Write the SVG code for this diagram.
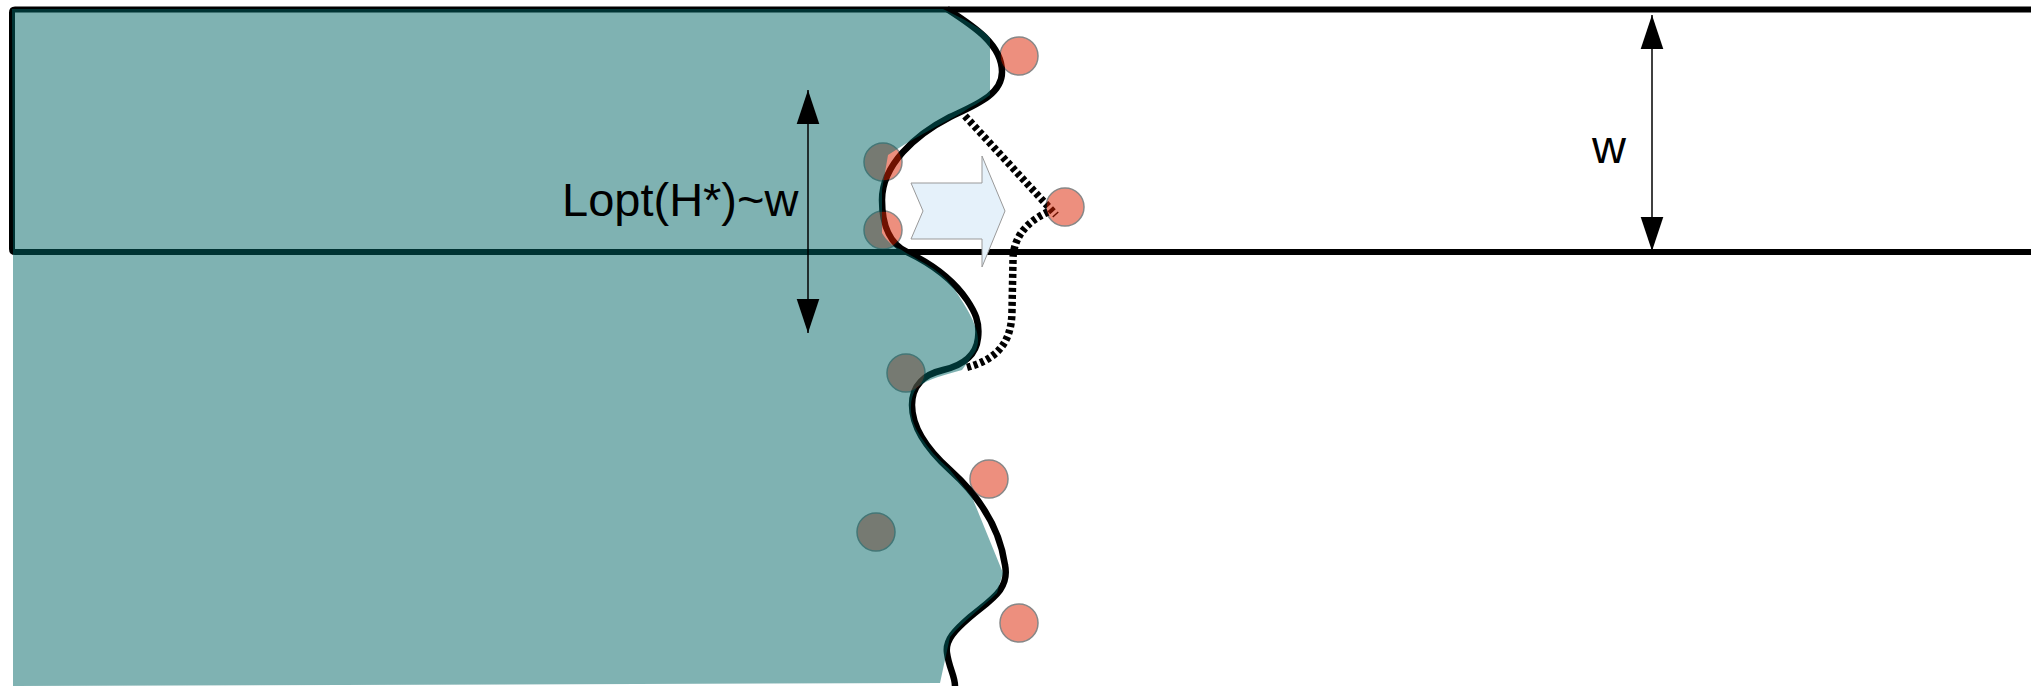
<svg xmlns="http://www.w3.org/2000/svg" width="2031" height="686" viewBox="0 0 2031 686">
<style>
.lbl{font-family:"Liberation Sans",Arial,sans-serif;font-size:47px;fill:#000}
.dim{stroke:#000;stroke-width:1.5;fill:none;marker-start:url(#ah);marker-end:url(#ah)}
.dot{stroke:#000;stroke-width:7.5;fill:none;stroke-dasharray:4 3}
.part{fill:#dd2200;stroke:#111;stroke-width:1.5;opacity:0.5}
</style>
<defs>
<marker id="ah" markerUnits="userSpaceOnUse" markerWidth="34" markerHeight="24" viewBox="0 0 34 24" refX="34" refY="12" orient="auto-start-reverse">
<path d="M0,0.7 L34,12 L0,23.3 Z" fill="#000"/>
</marker>
</defs>
<rect width="2031" height="686" fill="#fff"/>
<g id="channel">
<path d="M2040,9.5 L15,9.5 Q12,9.5 12,12.5 L12,249 Q12,252 15,252 L2040,252" fill="none" stroke="#000" stroke-width="6"/>
</g>
<g id="front">
<path d="M947,9 C975,27 1002,45 1002,72 C1002,95 975,105 950,117 C915,135 882,165 882,200 C882,228 892,245 907,252 C930,263 952,278 967,300 C975,312 980,322 978,338 C976,358 960,366 943,370 C925,374 912,385 912,405 C912,430 930,452 950,470 C980,497 1000,530 1005,565 C1010,590 990,600 970,617 C955,630 945,640 947,653 C949,668 955,676 955,686" fill="none" stroke="#000" stroke-width="6.5"/>
</g>
<g id="connectors">
<path class="dot" d="M965,116 L1056,215"/>
<path class="dot" d="M1048,212 C1030,220 1013,235 1013,260 L1012,310 C1012,345 995,360 965,368"/>
</g>
<g id="push-arrow">
<path d="M911,183 L982,183 L982,156 L1005,211 L982,267 L982,239 L911,239 L923,211 Z" fill="#e5f1fa" stroke="#999" stroke-width="1"/>
</g>
<g id="particles">
<circle class="part" cx="1019" cy="56" r="19"/>
<circle class="part" cx="883" cy="162" r="19"/>
<circle class="part" cx="1065" cy="207" r="19"/>
<circle class="part" cx="883" cy="230" r="19"/>
<circle class="part" cx="906" cy="373" r="19"/>
<circle class="part" cx="989" cy="479" r="19"/>
<circle class="part" cx="876" cy="532" r="19"/>
<circle class="part" cx="1019" cy="623" r="19"/>
</g>
<g id="fluid">
<path d="M12,9 L943,9 C965,20 982,28 990,38 L990,95 C980,103 970,107 963,112 C940,125 910,140 888,155 L882,190 L882,233 C886,240 892,246 900,249 C920,262 940,268 955,290 C968,310 985,335 975,352 L962,370 C945,375 930,378 917,387 C908,400 908,420 923,440 C935,458 947,466 950,470 L972,497 L1003,573 L997,593 C985,605 962,622 950,637 L940,683 L13,686 L13,252 Z" fill="#006666" opacity="0.5"/>
</g>
<g id="dim-lopt">
<line class="dim" x1="808" y1="90" x2="808" y2="333"/>
<text class="lbl" x="562" y="216">Lopt(H*)~w</text>
</g>
<g id="dim-w">
<line class="dim" x1="1652" y1="15" x2="1652" y2="251"/>
<text class="lbl" x="1609" y="163" text-anchor="middle">w</text>
</g>
</svg>
